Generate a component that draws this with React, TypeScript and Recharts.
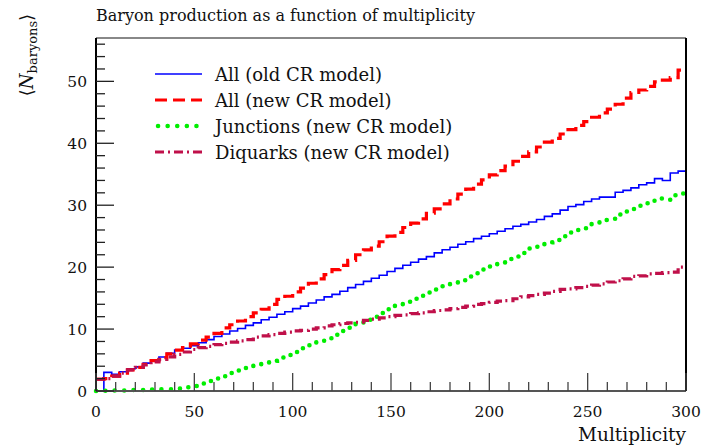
import React from 'react';
import { LineChart, Line, XAxis, YAxis, Legend } from 'recharts';

// multiplicity bin edges (bin width 4)
const binEdges = [
  0, 4, 8, 12, 16, 20, 24, 28, 32, 36, 40, 44, 48, 52, 56, 60, 64, 68, 72, 76,
  80, 84, 88, 92, 96, 100, 104, 108, 112, 116, 120, 124, 128, 132, 136, 140, 144, 148, 152, 156,
  160, 164, 168, 172, 176, 180, 184, 188, 192, 196, 200, 204, 208, 212, 216, 220, 224, 228, 232, 236,
  240, 244, 248, 252, 256, 260, 264, 268, 272, 276, 280, 284, 288, 292, 296, 300,
];

const oldAll = [
  0, 3.0, 2.7, 3.1, 3.6, 3.9, 4.5, 5.0, 5.5, 6.1,
  6.6, 6.9, 7.3, 7.8, 8.3, 8.8, 9.2, 9.7, 10.1, 10.6,
  11.0, 11.5, 11.9, 12.4, 12.8, 13.3, 13.7, 14.2, 14.7, 15.2,
  15.6, 16.1, 16.7, 17.2, 17.7, 18.2, 18.7, 19.3, 19.8, 20.3,
  20.8, 21.3, 21.7, 22.3, 22.8, 23.2, 23.7, 24.1, 24.6, 25.0,
  25.4, 25.8, 26.2, 26.6, 26.9, 27.3, 27.7, 28.2, 28.6, 29.2,
  29.8, 30.1, 30.6, 31.0, 31.3, 31.3, 32.1, 32.4, 32.8, 33.3,
  33.6, 34.3, 34.0, 35.2, 35.5,
];

const newAll = [
  1.9, 2.0, 2.4, 2.9, 3.4, 3.8, 4.3, 4.9, 5.4, 6.0,
  6.6, 7.0, 7.6, 8.2, 8.7, 9.3, 10.2, 10.7, 11.3, 12.0,
  12.6, 13.2, 14.0, 14.8, 15.3, 16.0, 16.6, 17.4, 18.1, 18.8,
  19.6, 20.3, 21.1, 22.0, 22.8, 23.4, 24.1, 25.0, 25.6, 26.4,
  27.1, 27.8, 28.7, 29.4, 30.2, 31.0, 31.8, 32.6, 33.4, 34.1,
  34.9, 35.6, 36.3, 37.1, 37.9, 38.6, 39.4, 40.2, 40.8, 41.5,
  42.2, 42.9, 43.5, 44.2, 44.9, 45.5, 46.3, 47.3, 48.2, 48.6,
  49.2, 49.9, 50.2, 50.6, 51.8,
];

const junctions = [
  0.0, 0.05, 0.1, 0.1, 0.15, 0.15, 0.2, 0.25, 0.3, 0.3,
  0.4, 0.6, 0.8, 1.2, 1.6, 2.0, 2.4, 2.9, 3.3, 3.7,
  4.1, 4.5, 4.9, 5.4, 5.8, 6.3, 6.9, 7.4, 8.0, 8.5,
  9.1, 9.7, 10.2, 10.8, 11.5, 12.0, 12.6, 13.2, 13.8, 14.4,
  14.9, 15.4, 15.9, 16.4, 16.9, 17.4, 17.9, 18.5, 19.0, 19.6,
  20.1, 20.6, 21.3, 21.7, 22.3, 23.0, 23.3, 24.0, 24.4, 25.0,
  25.6, 26.0, 26.3, 27.0, 27.6, 27.8, 28.5, 29.0, 29.4, 29.9,
  30.3, 31.1, 30.9, 31.6, 31.9,
];

const diquarks = [
  1.9, 2.0, 2.4, 2.9, 3.4, 3.8, 4.2, 4.7, 5.1, 5.5,
  5.9, 6.3, 6.7, 7.0, 7.2, 7.5, 7.7, 7.9, 8.1, 8.3,
  8.7, 8.9, 9.1, 9.3, 9.5, 9.7, 9.8, 10.0, 10.2, 10.5,
  10.7, 10.9, 11.0, 11.1, 11.4, 11.6, 11.8, 12.0, 12.2, 12.3,
  12.5, 12.6, 12.8, 13.0, 13.1, 13.3, 13.5, 13.7, 14.0, 14.1,
  14.3, 14.5, 14.6, 14.9, 15.2, 15.4, 15.6, 15.8, 16.1, 16.4,
  16.5, 16.7, 16.9, 17.1, 17.3, 17.6, 17.8, 18.1, 18.5, 18.6,
  18.9, 19.0, 19.1, 19.2, 20.0,
];

const xTicks = [0, 10, 20, 30, 40, 50, 60, 70, 80, 90, 100, 110, 120, 130, 140, 150, 160, 170, 180, 190,
  200, 210, 220, 230, 240, 250, 260, 270, 280, 290, 300];
const yTicks = [0, 2, 4, 6, 8, 10, 12, 14, 16, 18, 20, 22, 24, 26, 28, 30, 32, 34, 36, 38,
  40, 42, 44, 46, 48, 50, 52, 54, 56];

const FONT = "'DejaVu Serif', 'Liberation Serif', serif";

const series = [
  { key: 'oldAll', name: 'All (old CR model)', color: '#0000ff', width: 1.6, dash: undefined, cap: 'butt' },
  { key: 'newAll', name: 'All (new CR model)', color: '#ff0000', width: 3.2, dash: '12 6', cap: 'butt' },
  { key: 'junctions', name: 'Junctions (new CR model)', color: '#00ee00', width: 4.5, dash: '0.1 9.5', cap: 'round' },
  { key: 'diquarks', name: 'Diquarks (new CR model)', color: '#c0104a', width: 3.2, dash: '9 4 2 4', cap: 'butt' },
];

const chartData = binEdges.map((m, i) => {
  const j = Math.min(i, oldAll.length - 1);
  return { m, oldAll: oldAll[j], newAll: newAll[j], junctions: junctions[j], diquarks: diquarks[j] };
});

const XTick = (props: any) => {
  const { x, y, payload } = props;
  const major = payload.value % 50 === 0;
  return (
    <g>
      <line x1={x} x2={x} y1={y} y2={y - (major ? 18 : 9)} stroke="#444" strokeWidth={1.3} />
      {major && (
        <text x={x} y={y + 26} textAnchor="middle" fontFamily={FONT} fontSize={15.5} fill="#111">
          {payload.value}
        </text>
      )}
    </g>
  );
};

const YTick = (props: any) => {
  const { x, y, payload } = props;
  const major = payload.value % 10 === 0;
  return (
    <g>
      <line x1={x} x2={x + (major ? 18 : 9)} y1={y} y2={y} stroke="#222" strokeWidth={1.3} />
      {major && (
        <text x={x - 9} y={y + 5.5} textAnchor="end" fontFamily={FONT} fontSize={15.5} fill="#111">
          {payload.value}
        </text>
      )}
    </g>
  );
};

const renderLegend = () => (
  <div style={{ fontFamily: FONT, fontSize: 18, color: '#111' }}>
    {series.map((s) => (
      <div key={s.key} style={{ display: 'flex', alignItems: 'center', height: 26 }}>
        <svg width={60} height={26}>
          <line
            x1={s.cap === 'round' ? 8 : 5}
            x2={52}
            y1={13}
            y2={13}
            stroke={s.color}
            strokeWidth={s.width}
            strokeDasharray={s.dash}
            strokeLinecap={s.cap as any}
          />
        </svg>
        <span style={{ marginLeft: 5, whiteSpace: 'nowrap' }}>{s.name}</span>
      </div>
    ))}
  </div>
);

export default function App() {
  return (
    <div style={{ position: 'absolute', left: 0, top: 0, width: 704, height: 448, background: '#fff' }}>
      <LineChart width={704} height={448} data={chartData} margin={{ top: 37, right: 17, bottom: 56, left: 95 }}>
        <XAxis
          dataKey="m"
          type="number"
          domain={[0, 300]}
          ticks={xTicks}
          interval={0}
          height={1}
          tickSize={0}
          tickMargin={0}
          tickLine={false}
          tick={<XTick />}
          axisLine={{ stroke: '#555', strokeWidth: 2 }}
        />
        <XAxis
          xAxisId="top"
          orientation="top"
          type="number"
          domain={[0, 300]}
          height={1}
          tick={false}
          tickLine={false}
          axisLine={{ stroke: '#888', strokeWidth: 2 }}
        />
        <YAxis
          type="number"
          domain={[0, 57]}
          ticks={yTicks}
          interval={0}
          width={1}
          tickSize={0}
          tickMargin={0}
          tickLine={false}
          tick={<YTick />}
          axisLine={{ stroke: '#000', strokeWidth: 2 }}
        />
        <YAxis
          yAxisId="right"
          orientation="right"
          type="number"
          domain={[0, 57]}
          width={1}
          tick={false}
          tickLine={false}
          axisLine={{ stroke: '#000', strokeWidth: 2 }}
        />
        <Legend
          layout="vertical"
          align="center"
          verticalAlign="middle"
          content={renderLegend}
          wrapperStyle={{ left: 150, top: 61, width: 340 }}
        />
        {series.map((s) => (
          <Line
            key={s.key}
            dataKey={s.key}
            name={s.name}
            type="stepAfter"
            stroke={s.color}
            strokeWidth={s.width}
            strokeDasharray={s.dash}
            strokeLinecap={s.cap as any}
            dot={false}
            activeDot={false}
            isAnimationActive={false}
          />
        ))}
      </LineChart>
      <svg
        width={704}
        height={448}
        style={{ position: 'absolute', left: 0, top: 0, pointerEvents: 'none' }}
      >
        <text x={96} y={21} fontFamily={FONT} fontSize={16} fill="#111">
          Baryon production as a function of multiplicity
        </text>
        <text x={686} y={441} textAnchor="end" fontFamily={FONT} fontSize={18.5} fill="#111">
          Multiplicity
        </text>
        <text
          transform="translate(33, 55) rotate(-90)"
          textAnchor="middle"
          fontFamily={FONT}
          fontSize={18}
          fill="#111"
        >
          {'\u27e8'}
          <tspan fontStyle="italic">N</tspan>
          <tspan fontSize={13} dy={4}>baryons</tspan>
          <tspan dy={-4}>{'\u27e9'}</tspan>
        </text>
      </svg>
    </div>
  );
}
